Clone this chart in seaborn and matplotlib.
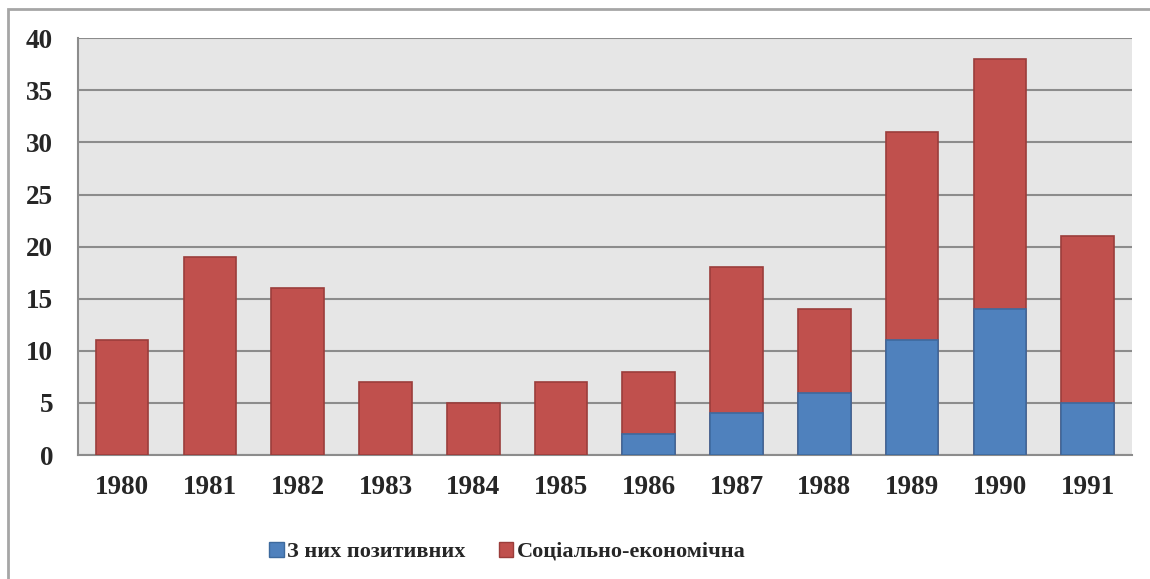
import matplotlib
matplotlib.use('Agg')
import matplotlib.pyplot as plt
import matplotlib.patches as mpatches
import seaborn as sns
import pandas as pd

# Data
years = ['1980', '1981', '1982', '1983', '1984', '1985',
         '1986', '1987', '1988', '1989', '1990', '1991']
total = [11, 19, 16, 7, 5, 7, 8, 18, 14, 31, 38, 21]
positive = [0, 0, 0, 0, 0, 0, 2, 4, 6, 11, 14, 5]
label_pos = 'З них позитивних'
label_soc = 'Соціально-економічна'

df = pd.DataFrame({'year': years, 'total': total, 'positive': positive})
# zero-height bars are not drawn in the original
df['positive'] = df['positive'].where(df['positive'] > 0)

sns.set_theme(style='white')
plt.rcParams['font.family'] = ['Liberation Serif', 'DejaVu Serif']
plt.rcParams['font.weight'] = 'bold'

red = '#c0504d'
blue = '#4f81bd'

fig = plt.figure(figsize=(11.5, 5.79), dpi=100)
ax = fig.add_axes([0.068, 0.214, 0.916, 0.72])
ax.set_facecolor('#e6e6e6')

sns.barplot(data=df, x='year', y='total', color=red, width=0.6,
            edgecolor='#9b3d3b', linewidth=1.2, saturation=1, ax=ax, zorder=3)
sns.barplot(data=df, x='year', y='positive', color=blue, width=0.6,
            edgecolor='#3d6a9e', linewidth=1.2, saturation=1, ax=ax, zorder=4)

ax.set_ylim(0, 40)
ax.set_yticks(range(0, 41, 5))
ax.set_xlim(-0.5, len(years) - 0.5)
ax.yaxis.grid(True, color='#8c8c8c', linewidth=1.5, zorder=0)
ax.set_axisbelow(True)
ax.set_xlabel('')
ax.set_ylabel('')
ax.tick_params(axis='both', labelsize=19.5, length=0)
ax.tick_params(axis='y', pad=18)
ax.tick_params(axis='x', pad=14)
for lbl in ax.get_xticklabels() + ax.get_yticklabels():
    lbl.set_fontweight('bold')

for side in ['top', 'right']:
    ax.spines[side].set_visible(False)
for side in ['left', 'bottom']:
    ax.spines[side].set_color('#8c8c8c')
    ax.spines[side].set_linewidth(1.5)

# outer chart border (right and bottom edges lie outside the image)
fig.patches.append(mpatches.Rectangle((0.007, -0.05), 1.05, 1.034, transform=fig.transFigure,
                                      fill=False, edgecolor='#a6a6a6', linewidth=2))

handles = [mpatches.Patch(facecolor=blue, edgecolor='#3d6a9e', label=label_pos),
           mpatches.Patch(facecolor=red, edgecolor='#9b3d3b', label=label_soc)]
fig.legend(handles=handles, loc='center', bbox_to_anchor=(0.441, 0.047), ncol=2,
           frameon=False, prop={'size': 16, 'weight': 'bold'},
           handlelength=0.65, handleheight=0.65, handletextpad=0.15, columnspacing=1.5)

fig.savefig('out.png', dpi=100)
